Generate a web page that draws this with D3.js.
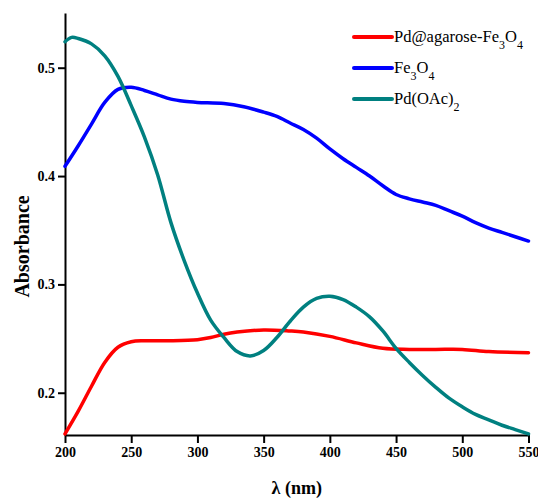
<!DOCTYPE html>
<html>
<head>
<meta charset="utf-8">
<script src="https://cdn.jsdelivr.net/npm/d3@7"></script>
<style>
  body { margin: 0; background: #fff; }
  text { font-family: "Liberation Serif", "Times New Roman", serif; }
</style>
</head>
<body>
<div id="chart"></div>
<script>
// wavelengths (nm) and absorbance
const wlRed = [200, 210, 220, 230, 240, 250, 260, 280, 300, 310, 320, 330, 350, 370, 380, 400, 420, 440, 460, 480, 500, 520, 550];
const absRed = [0.162, 0.183, 0.206, 0.228, 0.242, 0.247, 0.248, 0.248, 0.249, 0.251, 0.254, 0.256, 0.258, 0.257, 0.256, 0.252, 0.246, 0.241, 0.240, 0.240, 0.240, 0.238, 0.237];

const wlBlue = [200, 210, 220, 230, 240, 250, 260, 270, 280, 290, 300, 320, 335, 350, 360, 370, 380, 390, 400, 410, 420, 430, 440, 450, 460, 470, 480, 490, 500, 510, 520, 530, 540, 550];
const absBlue = [0.409, 0.428, 0.448, 0.468, 0.480, 0.482, 0.479, 0.475, 0.471, 0.469, 0.468, 0.467, 0.464, 0.459, 0.455, 0.449, 0.443, 0.435, 0.425, 0.416, 0.408, 0.400, 0.391, 0.383, 0.379, 0.376, 0.373, 0.368, 0.363, 0.357, 0.352, 0.348, 0.344, 0.340];

const wlTeal = [200, 205, 210, 220, 230, 240, 250, 260, 270, 280, 290, 300, 310, 320, 330, 340, 350, 360, 370, 380, 390, 400, 410, 420, 430, 440, 450, 460, 470, 480, 490, 500, 510, 520, 530, 540, 550];
const absTeal = [0.524, 0.528, 0.527, 0.522, 0.511, 0.492, 0.465, 0.436, 0.401, 0.357, 0.322, 0.292, 0.267, 0.251, 0.238, 0.234, 0.239, 0.251, 0.266, 0.279, 0.287, 0.289, 0.286, 0.279, 0.270, 0.257, 0.241, 0.228, 0.216, 0.205, 0.195, 0.187, 0.180, 0.175, 0.170, 0.166, 0.162];

const xTicks = [200, 250, 300, 350, 400, 450, 500, 550];
const yTicks = [0.2, 0.3, 0.4, 0.5];

const series = [
    { name: "Pd@agarose-Fe3O4", wl: wlRed, abs: absRed, color: "#ff0000",
      parts: [["Pd@agarose-Fe", 0], ["3", 1], ["O", 0], ["4", 1]] },
    { name: "Fe3O4", wl: wlBlue, abs: absBlue, color: "#0000ff",
      parts: [["Fe", 0], ["3", 1], ["O", 0], ["4", 1]] },
    { name: "Pd(OAc)2", wl: wlTeal, abs: absTeal, color: "#008080",
      parts: [["Pd(OAc)", 0], ["2", 1]] }
];

// set the dimensions and margins of the graph
const W = 538, H = 498;
const margin = { top: 13, right: 10, bottom: 63, left: 65 },
    width = 528.5 - margin.left,
    height = H - margin.top - margin.bottom;

const svg = d3.select("#chart")
    .append("svg")
    .attr("width", W)
    .attr("height", H)
    .append("g")
    .attr("transform", `translate(${margin.left},${margin.top})`);

const x = d3.scaleLinear()
    .domain([200, 550])
    .range([0, width]);

const y = d3.scaleLinear()
    .domain([0.161, 0.5505])
    .range([height, 0]);

// X axis
const xAxis = svg.append("g")
    .attr("transform", `translate(0,${height})`)
    .call(d3.axisBottom(x).tickValues(xTicks).tickSize(8).tickSizeOuter(0).tickPadding(4));

// Y axis
const yAxis = svg.append("g")
    .call(d3.axisLeft(y).tickValues(yTicks).tickFormat(d3.format(".1f")).tickSize(7).tickSizeOuter(0).tickPadding(3));

[xAxis, yAxis].forEach(function (a) {
    a.select(".domain").attr("stroke", "#000").attr("stroke-width", 2);
    a.selectAll(".tick line").attr("stroke", "#000").attr("stroke-width", 2);
    a.selectAll(".tick text")
        .attr("fill", "#000")
        .attr("font-family", "Liberation Serif, serif")
        .attr("font-weight", "bold")
        .attr("font-size", 14);
});

// axis labels
svg.append("text")
    .attr("text-anchor", "middle")
    .attr("font-weight", "bold")
    .attr("font-size", 18)
    .attr("x", x(375))
    .attr("y", height + 59)
    .text("λ (nm)");

svg.append("text")
    .attr("text-anchor", "middle")
    .attr("font-weight", "bold")
    .attr("font-size", 20)
    .attr("transform", `translate(-36,${y(0.335)}) rotate(-90)`)
    .text("Absorbance");

// lines
const line = d3.line()
    .x(function (d) { return x(d[0]); })
    .y(function (d) { return y(d[1]); })
    .curve(d3.curveCatmullRom.alpha(0.5));

series.forEach(function (s) {
    svg.append("path")
        .datum(d3.zip(s.wl, s.abs))
        .attr("fill", "none")
        .attr("stroke", s.color)
        .attr("stroke-width", 3.5)
        .attr("stroke-linecap", "round")
        .attr("d", line);
});

// legend
const legend = d3.select("svg").append("g")
    .attr("transform", "translate(354,37)");

series.forEach(function (s, i) {
    const row = legend.append("g").attr("transform", `translate(0,${i * 31})`);
    row.append("line")
        .attr("x1", 0).attr("x2", 38)
        .attr("stroke", s.color)
        .attr("stroke-width", 4)
        .attr("stroke-linecap", "round");
    const t = row.append("text")
        .attr("x", 40)
        .attr("y", 5)
        .attr("font-size", 16.5)
        .attr("fill", "#000");
    let sub = 0;
    s.parts.forEach(function (p) {
        const shift = p[1] - sub;
        t.append("tspan")
            .attr("dy", shift * 7)
            .attr("font-size", p[1] ? 12 : 16.5)
            .text(p[0]);
        sub = p[1];
    });
});
</script>
</body>
</html>
